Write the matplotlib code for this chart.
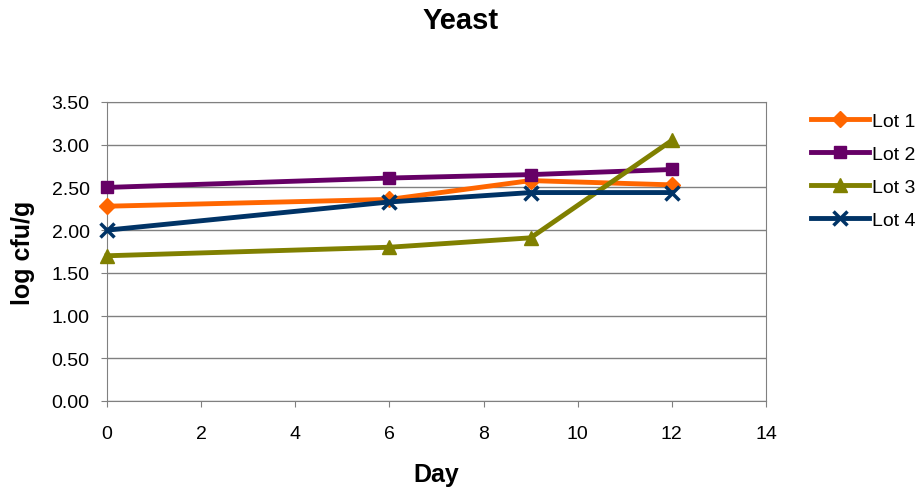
import matplotlib.pyplot as plt

days = [0, 6, 9, 12]
lot1 = [2.28, 2.36, 2.58, 2.53]
lot2 = [2.50, 2.61, 2.65, 2.71]
lot3 = [1.70, 1.80, 1.91, 3.05]
lot4 = [2.00, 2.33, 2.44, 2.44]

series = [
    ("Lot 1", lot1, "#FF6600", "D", 8),
    ("Lot 2", lot2, "#660066", "s", 8),
    ("Lot 3", lot3, "#808000", "^", 10),
    ("Lot 4", lot4, "#003366", "x", 10),
]

plt.rcParams["font.family"] = ["Liberation Sans", "DejaVu Sans"]

fig = plt.figure(figsize=(9.21, 4.89), dpi=100)
ax = fig.add_axes([107/921, 1-402/489, (766-107)/921, (402-103)/489])

for name, vals, col, mk, ms in series:
    ax.plot(days, vals, color=col, marker=mk, markersize=ms, linewidth=3.5,
            markeredgewidth=2.5 if mk == "x" else 1, markeredgecolor=col,
            label=name, clip_on=False, zorder=3)

ax.set_xlim(0, 14)
ax.set_ylim(0, 3.5)
ax.set_xticks(range(0, 15, 2))
ax.set_yticks([i*0.5 for i in range(8)])
ax.set_yticklabels([f"{i*0.5:.2f}" for i in range(8)])
ax.yaxis.grid(True, color="#808080", linewidth=1)
ax.set_axisbelow(True)
for s in ax.spines.values():
    s.set_color("#808080")
ax.tick_params(colors="#808080", labelcolor="black", labelsize=14, length=4.5)
ax.tick_params(axis="x", pad=13)
ax.tick_params(axis="y", pad=8)

ax.set_xlabel("Day", fontsize=18, fontweight="bold")
ax.xaxis.set_label_coords(0.5, -(475-402)/299, transform=ax.transAxes)
ax.xaxis.label.set_va("center")
ax.set_ylabel("log cfu/g", fontsize=18, fontweight="bold")
ax.yaxis.set_label_coords(-(107-23)/659, 0.5, transform=ax.transAxes)
ax.yaxis.label.set_va("center")
fig.text(0.5, 1-21/489, "Yeast", fontsize=21, fontweight="bold",
         ha="center", va="center")

ax.legend(loc="upper left", bbox_to_anchor=(811/921, 1-113/489),
          bbox_transform=fig.transFigure, frameon=False, fontsize=14,
          handlelength=3.0, handletextpad=0.15, labelspacing=0.8, borderaxespad=0,
          borderpad=0)

fig.savefig("out.png", dpi=100)
